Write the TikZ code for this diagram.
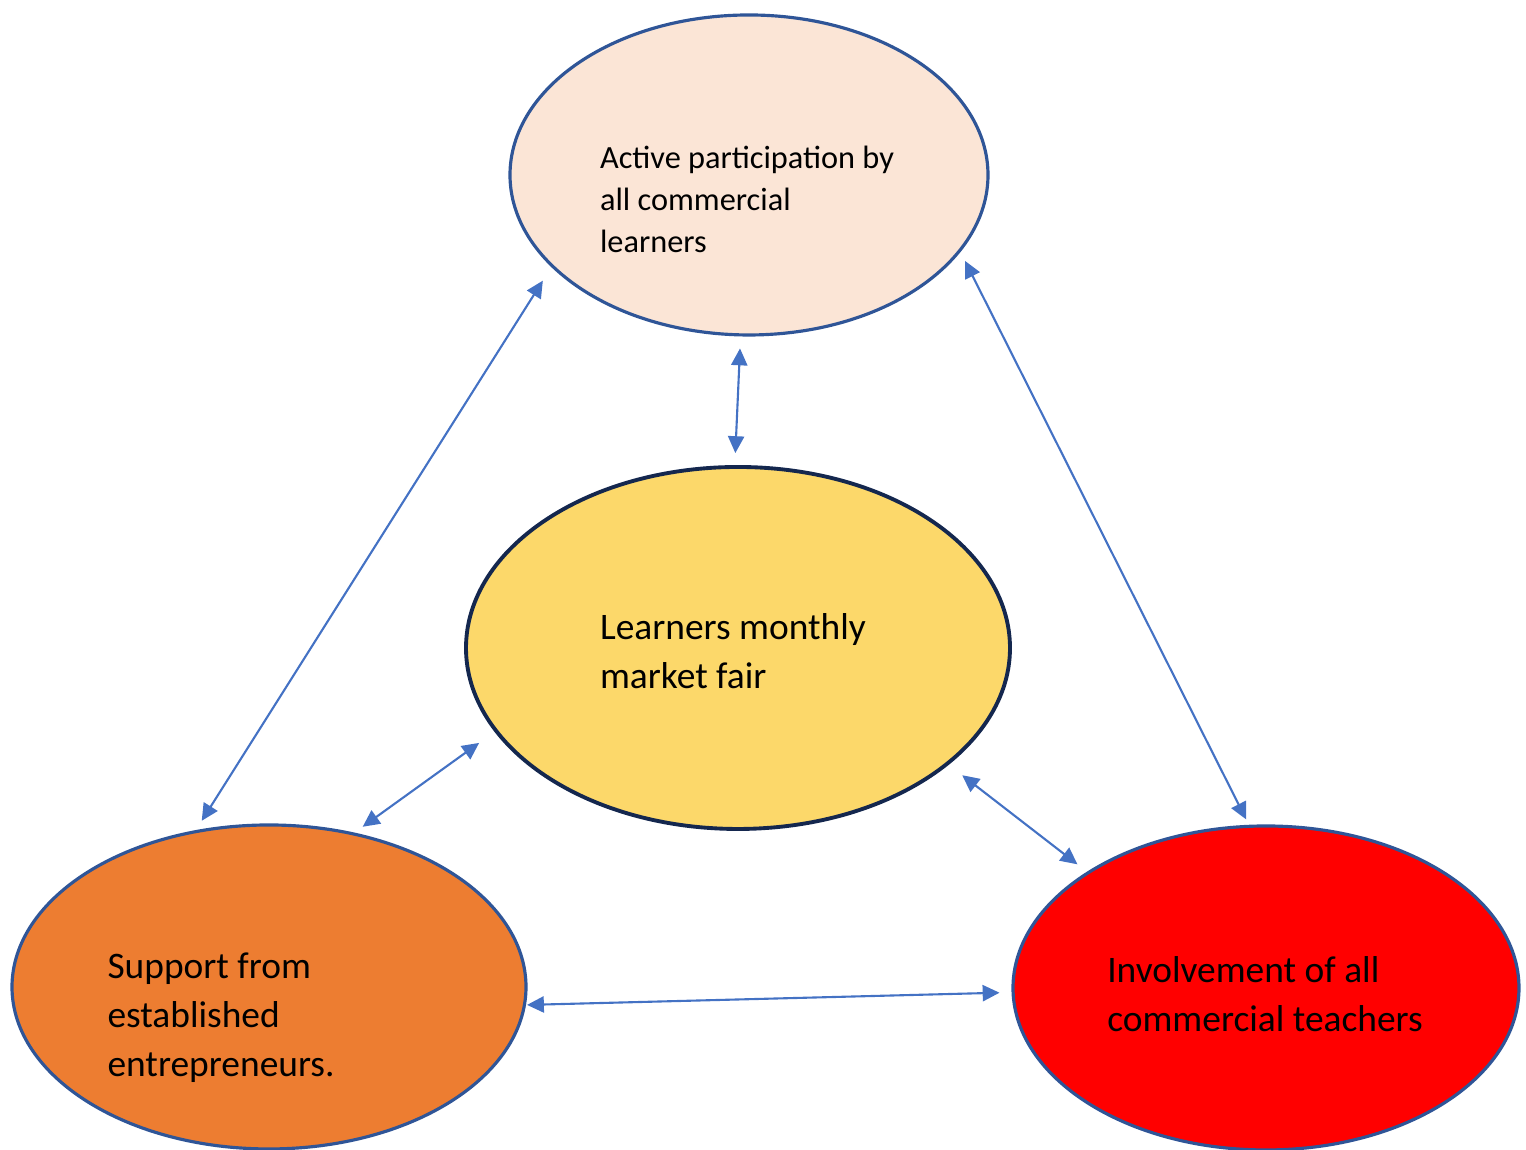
\documentclass[tikz,border=0pt]{standalone}
\usepackage{fontspec}
\setmainfont{Carlito}
\usetikzlibrary{shapes.geometric,arrows.meta}

\definecolor{peach}{HTML}{FBE5D6}
\definecolor{gold}{HTML}{FCD86A}
\definecolor{orange}{HTML}{ED7D31}
\definecolor{edgeblue}{HTML}{2F5597}
\definecolor{navy}{HTML}{14274E}
\definecolor{linkblue}{HTML}{4472C4}

\begin{document}
\begin{tikzpicture}[
		bubble/.style={ellipse, draw=edgeblue, line width=0.9pt, inner sep=0pt},
		txt/.style={align=left, inner sep=0pt},
		link/.style={draw=linkblue, line width=0.6pt, {Triangle[length=4.8pt,width=4.6pt]}-{Triangle[length=4.8pt,width=4.6pt]}}
	]
		\useasboundingbox (0,0) rectangle (15.26,11.5);

		% the four circles
		\node[bubble, fill=peach, minimum width=4.78cm, minimum height=3.2cm] (active) at (7.49,9.75) {};
		\node[bubble, fill=gold, draw=navy, line width=1.1pt, minimum width=5.44cm, minimum height=3.62cm] (fair) at (7.38,5.02) {};
		\node[bubble, fill=orange, minimum width=5.14cm, minimum height=3.24cm] (support) at (2.69,1.63) {};
		\node[bubble, fill=red, minimum width=5.06cm, minimum height=3.24cm] (teachers) at (12.66,1.62) {};

		% their texts
		\node[txt, font=\fontsize{9.2}{11.9}\selectfont] (activetext) at ([xshift=-0.02cm,yshift=-0.245cm]active.center)
			{Active participation by\\all commercial\\learners};
		\node[txt, font=\fontsize{10.65}{13.9}\selectfont] (fairtext) at ([xshift=-0.05cm,yshift=-0.03cm]fair.center)
			{Learners monthly\\market fair};
		\node[txt, font=\fontsize{10.65}{13.9}\selectfont] (supporttext) at ([xshift=-0.48cm,yshift=-0.31cm]support.center)
			{Support from\\established\\entrepreneurs.};
		\node[txt, font=\fontsize{10.65}{13.9}\selectfont] (teacherstext) at ([xshift=-0.01cm,yshift=-0.06cm]teachers.center)
			{Involvement of all\\commercial teachers};

		% links
		\draw[link, shorten <=0.16cm, shorten >=0.11cm] (active.205) -- (support.115);
		\draw[link, shorten <=0.10cm, shorten >=0.06cm] (active.340) -- (teachers.96);
		\draw[link, shorten <=0.12cm, shorten >=0.12cm] (active.267) -- (fair.91);
		\draw[link, shorten <=0.19cm, shorten >=0.10cm] (fair.199) -- (support.61);
		\draw[link, shorten <=0.17cm, shorten >=0.12cm] (fair.331) -- (teachers.147);
		\draw[link, shorten <=0.01cm, shorten >=0.12cm] (support.356) -- (teachers.181.5);
	\end{tikzpicture}
\end{document}
